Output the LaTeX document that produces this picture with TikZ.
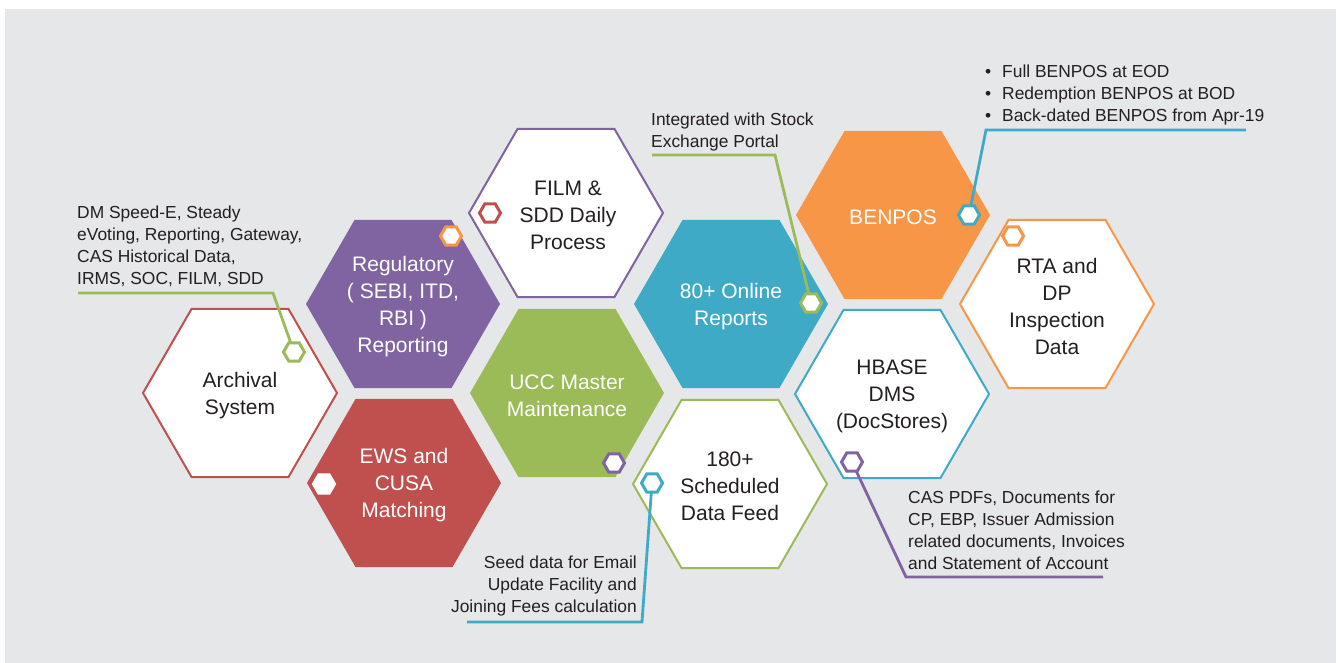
\documentclass[tikz,border=0pt]{standalone}
\usepackage{fontspec}
\setmainfont{Liberation Sans}
\usetikzlibrary{shapes.geometric}
\definecolor{bg}{HTML}{E6E7E9}
\definecolor{cpurple}{HTML}{8064A2}
\definecolor{cred}{HTML}{C0504D}
\definecolor{cgreen}{HTML}{9BBB59}
\definecolor{cblue}{HTML}{3FAAC6}
\definecolor{corange}{HTML}{F79646}
\definecolor{ink}{HTML}{231F20}
\begin{document}
\begin{tikzpicture}[x=1pt,y=-1pt,
  hex/.style={regular polygon, regular polygon sides=6, minimum size=194pt, inner sep=0pt, outer sep=0pt},
  hexfill/.style={hex, fill=#1, draw=none},
  hexline/.style={hex, fill=white, draw=#1, line width=2pt},
  hextxt/.style={align=center, font=\fontsize{21}{27}\selectfont, inner sep=0pt, text=ink, yshift=-2.5pt},
  hextxtw/.style={hextxt, text=white},
  marker/.style={regular polygon, regular polygon sides=6, minimum size=21pt, inner sep=0pt, outer sep=0pt, fill=white, draw=#1, line width=3pt},
  lead/.style={draw=#1, line width=2.8pt},
  note/.style={align=left, font=\fontsize{17.4}{22}\selectfont, text=ink, inner sep=0pt},
]
\useasboundingbox (0,0) rectangle (1338,663);
\fill[white] (0,0) rectangle (1338,663);
\fill[bg] (5,9) rectangle (1336,663);

% hexagons
\node[hexline=cred]      (arch) at (240,393) {};
\node[hexfill=cpurple]   (reg)  at (403,304) {};
\node[hexfill=cred]      (ews)  at (404,483) {};
\node[hexline=cpurple]   (film) at (566,213) {};
\node[hexfill=cgreen]    (ucc)  at (567,393) {};
\node[hexfill=cblue]     (onl)  at (731,304) {};
\node[hexline=cgreen]    (sch)  at (730,484) {};
\node[hexfill=corange]   (ben)  at (893,215) {};
\node[hexline=cblue]     (hb)   at (892,394) {};
\node[hexline=corange]   (rta)  at (1057,304) {};

% hexagon texts
\node[hextxt]  at (arch) {Archival\\System};
\node[hextxtw] at (reg)  {Regulatory\\( SEBI, ITD,\\RBI )\\Reporting};
\node[hextxtw] at (ews)  {EWS and\\CUSA\\Matching};
\node[hextxt]  at ([xshift=2pt]film) {FILM \&\\SDD Daily\\Process};
\node[hextxtw] at (ucc)  {UCC Master\\Maintenance};
\node[hextxtw] at (onl)  {80+ Online\\Reports};
\node[hextxt]  at (sch)  {180+\\Scheduled\\Data Feed};
\node[hextxtw] at (ben)  {BENPOS};
\node[hextxt]  at (hb)   {HBASE\\DMS\\(DocStores)};
\node[hextxt]  at (rta)  {RTA and\\DP\\Inspection\\Data};

% small markers
\node[marker=cgreen]  (m-arch) at (294,352) {};
\node[marker=corange] (m-reg)  at (451,236) {};
\node[marker=cred]    (m-film) at (490,213) {};
\node[marker=cgreen]  (m-onl)  at (811,303) {};
\node[marker=cblue]   (m-ben)  at (969,215) {};
\node[marker=corange] (m-rta)  at (1013,236) {};
\node[marker=white]   (m-ews)  at (324,484) {};
\node[marker=cpurple] (m-ucc)  at (614,463) {};
\node[marker=cblue]   (m-sch)  at (652,483) {};
\node[marker=cpurple] (m-hb)   at (852,462) {};

% leader bend points and ends
\coordinate (a1) at (273,293); \coordinate (a2) at (78,293);
\coordinate (o1) at (775,155); \coordinate (o2) at (652,155);
\coordinate (b1) at (986,130); \coordinate (b2) at (1246,130);
\coordinate (s1) at (642,622); \coordinate (s2) at (467,622);
\coordinate (h1) at (906,577); \coordinate (h2) at (1103,577);

\draw[lead=cgreen]  (m-arch) -- (a1) -- (a2);
\draw[lead=cgreen]  (m-onl)  -- (o1) -- (o2);
\draw[lead=cblue]   (m-ben)  -- (b1) -- (b2);
\draw[lead=cblue]   (m-sch)  -- (s1) -- (s2);
\draw[lead=cpurple] (m-hb)   -- (h1) -- (h2);

% notes
\node[note, anchor=north west] (n-arch) at (77,206)
  {DM Speed-E, Steady\\eVoting, Reporting, Gateway,\\CAS Historical Data,\\IRMS, SOC, FILM, SDD};
\node[note, anchor=north west] (n-onl) at (651,113)
  {Integrated with Stock\\Exchange Portal};
\node[note, anchor=north west] (n-ben) at (985,65)
  {\makebox[17pt][l]{\textbullet}Full BENPOS at EOD\\
   \makebox[17pt][l]{\textbullet}Redemption BENPOS at BOD\\
   \makebox[17pt][l]{\textbullet}Back-dated BENPOS from Apr-19};
\node[note, align=right, anchor=north east] (n-sch) at (637,556)
  {Seed data for Email\\Update Facility and\\Joining Fees calculation};
\node[note, anchor=north west] (n-hb) at (908,491)
  {CAS PDFs, Documents for\\CP, EBP, Issuer Admission\\related documents, Invoices\\and Statement of Account};
\end{tikzpicture}
\end{document}
